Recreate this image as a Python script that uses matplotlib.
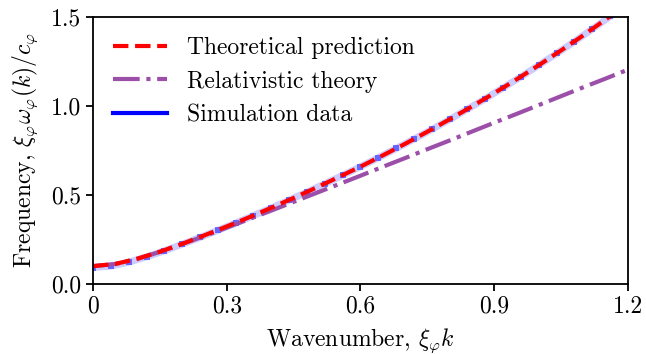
import matplotlib
matplotlib.use("Agg")
import matplotlib.pyplot as plt
from matplotlib.lines import Line2D

# wavenumber grid for the two theory curves
k_theory = [0.00, 0.05, 0.10, 0.15, 0.20, 0.25, 0.30, 0.35, 0.40, 0.45, 0.50, 0.55,
            0.60, 0.65, 0.70, 0.75, 0.80, 0.85, 0.90, 0.95, 1.00, 1.05, 1.10, 1.15, 1.20]
w_theory = [0.100, 0.112, 0.142, 0.181, 0.225, 0.273, 0.323, 0.374, 0.428, 0.483, 0.540, 0.599,
            0.659, 0.722, 0.787, 0.855, 0.925, 0.997, 1.072, 1.149, 1.229, 1.312, 1.397, 1.486, 1.577]
w_relat = [0.100, 0.112, 0.141, 0.180, 0.224, 0.269, 0.316, 0.364, 0.412, 0.461, 0.510, 0.559,
           0.608, 0.658, 0.707, 0.757, 0.806, 0.856, 0.906, 0.955, 1.005, 1.055, 1.105, 1.154, 1.204]

# simulation points
k_sim = [0.00, 0.04, 0.08, 0.12, 0.16, 0.20, 0.24, 0.28, 0.32, 0.36, 0.40, 0.44, 0.48, 0.52, 0.56,
         0.60, 0.64, 0.68, 0.72, 0.76, 0.80, 0.84, 0.88, 0.92, 0.96, 1.00, 1.04, 1.08, 1.12, 1.16]
w_sim = [0.092, 0.100, 0.122, 0.152, 0.186, 0.223, 0.261, 0.301, 0.342, 0.384, 0.427, 0.471, 0.516,
         0.563, 0.610, 0.659, 0.709, 0.761, 0.814, 0.868, 0.924, 0.982, 1.041, 1.102, 1.164, 1.229,
         1.295, 1.362, 1.432, 1.503]

plt.rcParams['font.family'] = 'serif'
plt.rcParams['font.serif'] = ['cmr10', 'DejaVu Serif']
plt.rcParams['mathtext.fontset'] = 'cm'
plt.rcParams['axes.formatter.use_mathtext'] = True
plt.rcParams['font.size'] = 17

fig = plt.figure(figsize=(6.46, 3.54), dpi=100)
ax = fig.add_axes([0.144, 0.198, 0.828, 0.754])

ax.plot(k_sim, w_sim, '-', color='blue', lw=5, alpha=0.2)
ax.plot(k_sim, w_sim, 's', color='blue', ms=5, mew=0, alpha=0.5)
ax.plot(k_theory, w_relat, '-.', color='#9b4fa8', lw=3)
ax.plot(k_theory, w_theory, '--', color='red', lw=3)

handles = [Line2D([], [], ls='--', color='red', lw=3),
           Line2D([], [], ls='-.', color='#9b4fa8', lw=3),
           Line2D([], [], ls='-', color='blue', lw=3)]
labels = ['Theoretical prediction', 'Relativistic theory', 'Simulation data']
ax.legend(handles, labels, loc='upper left', frameon=False, fontsize=17,
          handlelength=2.3, handletextpad=0.85, borderaxespad=0.45, labelspacing=0.48)

ax.set_xlim(0, 1.2)
ax.set_ylim(0, 1.5)
ax.set_xticks([0, 0.3, 0.6, 0.9, 1.2])
ax.set_xticklabels(['0', '0.3', '0.6', '0.9', '1.2'])
ax.set_yticks([0, 0.5, 1.0, 1.5])
ax.set_yticklabels(['0.0', '0.5', '1.0', '1.5'])
ax.set_xlabel(r'Wavenumber, $\xi_\varphi k$', labelpad=6)
ax.set_ylabel(r'Frequency, $\xi_\varphi\omega_\varphi(k)/c_\varphi$', labelpad=8)

for s in ax.spines.values():
    s.set_linewidth(1.3)
ax.tick_params(width=1.3, length=5)

fig.savefig('out.png', dpi=100)
